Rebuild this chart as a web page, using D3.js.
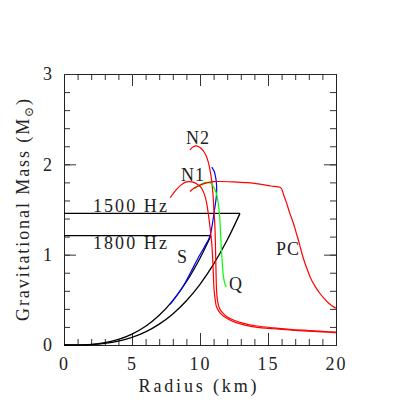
<!DOCTYPE html>
<html>
<head>
<meta charset="utf-8">
<script src="https://cdn.jsdelivr.net/npm/d3@7"></script>
<style>
  body { margin: 0; background: #fff; }
  text { font-family: "Liberation Serif", "DejaVu Serif", serif; fill: #222; }
</style>
</head>
<body>
<svg width="415" height="415"></svg>
<script>
// ---- data (radius km, gravitational mass Msun) ----
const xTicksMajor = [0, 5, 10, 15, 20];
const yTicksMajor = [0, 1, 2, 3];

const freqLabels = ["1500 Hz", "1800 Hz"];
const freqMass = [1.457, 1.21];

// mass-shedding limits
const limit1500 = [[0, 0], [1, 0.001], [2, 0.005], [3, 0.018], [4, 0.043], [5, 0.084], [6, 0.145],
  [7, 0.231], [8, 0.344], [9, 0.49], [10, 0.672], [11, 0.895], [12, 1.162], [12.94, 1.457]];
const limit1800 = [[0, 0], [1, 0.001], [2, 0.008], [3, 0.026], [4, 0.061], [5, 0.12], [6, 0.207],
  [7, 0.329], [8, 0.492], [9, 0.7], [10, 0.961], [10.8, 1.21]];

const curveS = [[7.8, 0.45], [8.3, 0.55], [8.8, 0.66], [9.3, 0.8], [9.85, 0.96], [10.3, 1.08],
  [10.72, 1.2], [10.9, 1.33], [11.03, 1.46], [11.15, 1.58], [11.22, 1.68], [11.22, 1.76],
  [11.18, 1.83], [11.05, 1.92], [10.86, 1.97]];

const curveN2 = [[9.26, 2.16], [9.5, 2.195], [9.75, 2.205], [10.05, 2.18], [10.37, 2.12], [10.6, 2.03],
  [10.8, 1.88], [10.95, 1.68], [11.02, 1.5], [11.1, 1.3], [11.15, 1.0], [11.18, 0.8], [11.22, 0.6],
  [11.3, 0.48], [11.45, 0.4], [11.7, 0.35], [12.0, 0.31], [12.45, 0.277], [13.2, 0.24], [14.2, 0.21],
  [15.4, 0.19], [16.6, 0.174], [18, 0.16], [19, 0.15], [20, 0.142]];

const curveN1 = [[7.8, 1.63], [8.2, 1.71], [8.6, 1.77], [9.0, 1.805], [9.4, 1.805], [9.8, 1.78],
  [10.1, 1.74], [10.32, 1.67], [10.49, 1.57], [10.7, 1.35], [10.86, 1.13], [10.95, 0.9],
  [11.03, 0.62], [11.12, 0.5], [11.22, 0.42], [11.5, 0.35], [11.96, 0.295], [12.6, 0.25],
  [13.3, 0.22], [14.2, 0.196], [15.4, 0.18], [16.6, 0.166], [18, 0.153], [19, 0.145], [20, 0.138]];

const curveQ = [[9.6, 1.73], [9.9, 1.765], [10.2, 1.79], [10.5, 1.8], [10.8, 1.79], [11.0, 1.75],
  [11.2, 1.68], [11.35, 1.56], [11.45, 1.42], [11.5, 1.27], [11.55, 1.12], [11.6, 1.0],
  [11.65, 0.88], [11.72, 0.76], [11.83, 0.68], [11.93, 0.64]];

const curvePC = [[9.26, 1.7], [9.6, 1.74], [10.0, 1.77], [10.5, 1.795], [11.0, 1.808], [11.5, 1.81],
  [12.5, 1.805], [13.5, 1.797], [14.4, 1.78], [15.2, 1.76], [15.93, 1.742], [16.15, 1.66],
  [16.37, 1.57], [16.6, 1.46], [16.86, 1.35], [17.1, 1.23], [17.3, 1.126], [17.5, 1.01],
  [17.72, 0.905], [17.95, 0.81], [18.2, 0.72], [18.5, 0.64], [18.82, 0.57], [19.1, 0.52],
  [19.43, 0.468], [19.7, 0.435], [20, 0.406]];

const curveNames = ["S", "N2", "N1", "Q", "PC"];
const curveData = [curveS, curveN2, curveN1, curveQ, curvePC];
const curveColors = ["#0000ff", "#ff0000", "#ff0000", "#00ff00", "#ff0000"];

// label anchors (R, M) for the curve names
const nameAnchors = [[8.31, 0.908], [8.97, 2.225], [8.6, 1.816], [12.13, 0.609], [15.59, 0.996]];
const freqAnchorR = 2.13;
const freqAnchorM = [1.472, 1.063];

// ---- chart ----
const svg = d3.select("svg");
const x = d3.scaleLinear().domain([0, 20]).range([64, 336]);
const y = d3.scaleLinear().domain([0, 3]).range([345, 74]);

const fontSize = 18;

// letter-spacing so a label spans a given width
function fit(sel, target) {
  sel.each(function () {
    const t = d3.select(this);
    const n = this.getNumberOfChars();
    const w = this.getComputedTextLength();
    if (n > 1) t.style("letter-spacing", ((target - w) / (n - 1)) + "px");
  });
}

function styleAxis(g) {
  g.attr("font-family", null).attr("font-size", null);
  g.select(".domain").attr("stroke", "#222").attr("stroke-width", 1);
  g.selectAll(".tick line").attr("stroke", "#333").attr("stroke-width", 1);
  g.selectAll("text").attr("font-size", fontSize).style("fill", "#222");
}

const minorX = d3.range(0, 21, 1);
const minorY = d3.range(0, 3.01, 0.2);

// bottom
svg.append("g").attr("transform", `translate(0,${y(0)})`)
  .call(d3.axisBottom(x).tickValues(minorX).tickSize(-6).tickSizeOuter(0).tickFormat(""))
  .call(styleAxis);
svg.append("g").attr("transform", `translate(0,${y(0)})`)
  .call(d3.axisBottom(x).tickValues(xTicksMajor).tickSize(-12).tickSizeOuter(0).tickPadding(12)
    .tickFormat(d3.format("d")))
  .call(styleAxis)
  .call(g => g.selectAll("text").style("letter-spacing", "2px"));

// top
svg.append("g").attr("transform", `translate(0,${y(3)})`)
  .call(d3.axisTop(x).tickValues(minorX).tickSize(-6).tickSizeOuter(0).tickFormat(""))
  .call(styleAxis);
svg.append("g").attr("transform", `translate(0,${y(3)})`)
  .call(d3.axisTop(x).tickValues(xTicksMajor).tickSize(-12).tickSizeOuter(0).tickFormat(""))
  .call(styleAxis);

// left
svg.append("g").attr("transform", `translate(${x(0)},0)`)
  .call(d3.axisLeft(y).tickValues(minorY).tickSize(-6).tickSizeOuter(0).tickFormat(""))
  .call(styleAxis);
svg.append("g").attr("transform", `translate(${x(0)},0)`)
  .call(d3.axisLeft(y).tickValues(yTicksMajor).tickSize(-12).tickSizeOuter(0).tickPadding(12)
    .tickFormat(d3.format("d")))
  .call(styleAxis);

// right
svg.append("g").attr("transform", `translate(${x(20)},0)`)
  .call(d3.axisRight(y).tickValues(minorY).tickSize(-6).tickSizeOuter(0).tickFormat(""))
  .call(styleAxis);
svg.append("g").attr("transform", `translate(${x(20)},0)`)
  .call(d3.axisRight(y).tickValues(yTicksMajor).tickSize(-12).tickSizeOuter(0).tickFormat(""))
  .call(styleAxis);

// axis titles
svg.append("text")
  .attr("x", 199).attr("y", 392)
  .attr("text-anchor", "middle")
  .attr("font-size", fontSize)
  .text("Radius (km)")
  .call(fit, 118);

const yTitle = svg.append("text")
  .attr("transform", "translate(29,209) rotate(-90)")
  .attr("text-anchor", "middle")
  .attr("font-size", fontSize);
yTitle.append("tspan").text("Gravitational Mass (M");
yTitle.append("tspan").attr("font-size", 12).attr("dy", 4).text("\u2299");
yTitle.append("tspan").attr("dy", -4).text(")");
yTitle.call(fit, 222);

const line = d3.line()
  .x(d => x(d[0]))
  .y(d => y(d[1]))
  .curve(d3.curveCatmullRom.alpha(0.5));

// Keplerian limits: horizontal frequency line plus shedding curve
const limits = [limit1500, limit1800];
limits.forEach((pts, i) => {
  const end = pts[pts.length - 1];
  svg.append("line")
    .attr("x1", x(0)).attr("x2", x(end[0]))
    .attr("y1", y(freqMass[i])).attr("y2", y(freqMass[i]))
    .attr("stroke", "#000").attr("stroke-width", 1.3);
  svg.append("path")
    .attr("d", line(pts))
    .attr("fill", "none")
    .attr("stroke", "#000")
    .attr("stroke-width", 1.3);
  svg.append("text")
    .attr("x", x(freqAnchorR)).attr("y", y(freqAnchorM[i]))
    .attr("font-size", fontSize)
    .text(freqLabels[i])
    .call(fit, 74);
});

// mass-radius curves
svg.selectAll("path.eos")
  .data(curveData)
  .enter()
  .append("path")
  .attr("class", "eos")
  .attr("d", d => line(d))
  .attr("fill", "none")
  .attr("stroke", (d, i) => curveColors[i])
  .attr("stroke-width", 1.2);

svg.selectAll("text.name")
  .data(curveNames)
  .enter()
  .append("text")
  .attr("class", "name")
  .attr("x", (d, i) => x(nameAnchors[i][0]))
  .attr("y", (d, i) => y(nameAnchors[i][1]))
  .attr("font-size", fontSize)
  .style("letter-spacing", "1px")
  .text(d => d);
</script>
</body>
</html>
